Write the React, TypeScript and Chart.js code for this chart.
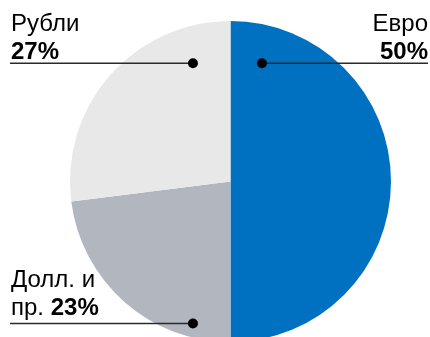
import React, { useEffect, useRef } from "react";
import { Chart, registerables } from "chart.js";

Chart.register(...registerables);

const categories = ["Евро", "Долл. и пр.", "Рубли"];
const values = [50, 23, 27];
const colors = ["#0070C0", "#B2B6BF", "#E8E8E8"];

const FONT = "'Liberation Sans', Arial, sans-serif";

const labelPlugin = {
  id: "calloutLabels",
  afterDraw(chart: any) {
    const ctx = chart.ctx as CanvasRenderingContext2D;
    const meta = chart.getDatasetMeta(0);
    const arc = meta.data[0];
    const cx = arc.x;
    const cy = arc.y;
    const r = arc.outerRadius;
    const W = chart.width;
    ctx.save();
    const drawLine = (x1: number, x2: number, y: number, dotX: number) => {
      ctx.strokeStyle = "#2a2a2a";
      ctx.lineWidth = 1.6;
      ctx.beginPath();
      ctx.moveTo(x1, y);
      ctx.lineTo(x2, y);
      ctx.stroke();
      ctx.fillStyle = "#000";
      ctx.beginPath();
      ctx.arc(dotX, y, 5, 0, Math.PI * 2);
      ctx.fill();
    };
    const normal = `24px ${FONT}`;
    const bold = `bold 24px ${FONT}`;
    ctx.textBaseline = "alphabetic";
    ctx.fillStyle = "#000";

    // Rubles (top-left)
    const topLineY = cy - 0.737 * r;
    const leftDotX = cx - 0.234 * r;
    const rightDotX = cx + 0.196 * r;
    ctx.textAlign = "left";
    ctx.font = normal;
    ctx.fillText(categories[2], 11, 31);
    ctx.font = bold;
    ctx.fillText(values[2] + "%", 11, 59);
    drawLine(10, leftDotX, topLineY, leftDotX);

    // Euro (top-right)
    ctx.textAlign = "right";
    ctx.font = normal;
    ctx.fillText(categories[0], W - 2, 31);
    ctx.font = bold;
    ctx.fillText(values[0] + "%", W - 2, 59);
    drawLine(rightDotX, W - 2, topLineY, rightDotX);

    // Dollars (bottom-left)
    const botLineY = cy + 0.885 * r;
    ctx.textAlign = "left";
    ctx.font = normal;
    ctx.fillText("Долл. и", 11, 287);
    const pre = "пр. ";
    ctx.fillText(pre, 11, 315);
    const w = ctx.measureText(pre).width;
    ctx.font = bold;
    ctx.fillText(values[1] + "%", 11 + w, 315);
    drawLine(10, leftDotX, botLineY, leftDotX);
    ctx.restore();
  },
};

export default function App() {
  const ref = useRef<HTMLCanvasElement | null>(null);
  useEffect(() => {
    document.body.style.margin = "0";
    const chart = new Chart(ref.current!, {
      type: "pie",
      data: {
        labels: categories,
        datasets: [
          {
            data: values,
            backgroundColor: colors,
            borderWidth: 0,
          },
        ],
      },
      options: {
        animation: false,
        responsive: false,
        events: [],
        layout: { padding: { left: 70, right: 39, top: 21, bottom: 8 } },
        plugins: {
          legend: { display: false },
          tooltip: { enabled: false },
        },
      },
      plugins: [labelPlugin],
    });
    return () => chart.destroy();
  }, []);
  return (
    <div style={{ width: 430, height: 337, overflow: "hidden", background: "#fff" }}>
      <canvas ref={ref} width={430} height={350} style={{ width: 430, height: 350, display: "block" }} />
    </div>
  );
}
